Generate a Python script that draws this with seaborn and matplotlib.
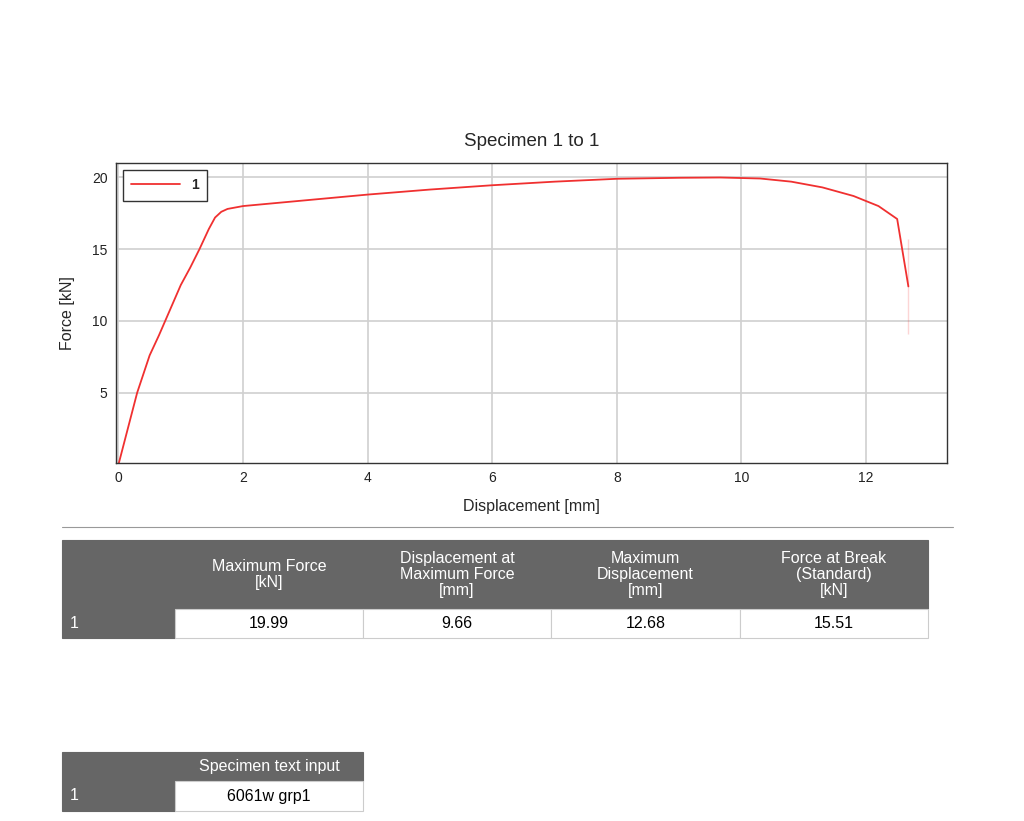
import matplotlib
matplotlib.use("Agg")
import matplotlib.pyplot as plt
import seaborn as sns
import pandas as pd

# curve
displacement = [0, 0.15, 0.3, 0.5, 0.65, 0.85, 1.0, 1.15, 1.3, 1.45, 1.55, 1.65, 1.75, 2.0, 3.0, 4.0, 5.0,
                6.0, 7.0, 8.0, 9.0, 9.66, 10.3, 10.8, 11.3, 11.8, 12.2, 12.5, 12.68, 12.68]
force = [0, 2.5, 5.0, 7.6, 9.0, 11.0, 12.5, 13.7, 15.0, 16.4, 17.2, 17.6, 17.8, 18.0, 18.4, 18.8, 19.15,
         19.45, 19.7, 19.9, 19.97, 19.99, 19.92, 19.7, 19.3, 18.7, 18.0, 17.1, 15.7, 9.1]

headers = ["Maximum Force\n[kN]", "Displacement at\nMaximum Force\n[mm]",
           "Maximum\nDisplacement\n[mm]", "Force at Break\n(Standard)\n[kN]"]
results = ["19.99", "9.66", "12.68", "15.51"]
specimen_ids = ["1"]
text_input = ["6061w grp1"]

sns.set_style("whitegrid")
plt.rcParams["font.family"] = ["Liberation Sans", "DejaVu Sans"]

fig = plt.figure(figsize=(10.24, 8.21), dpi=100)
ax = fig.add_axes([116 / 1024, 1 - 463 / 821, 831 / 1024, 300 / 821])
df = pd.DataFrame({"Displacement": displacement, "Force": force, "id": "1"})
sns.lineplot(data=df, x="Displacement", y="Force", hue="id", palette=["#f03030"],
             sort=False, lw=1.3, ax=ax)
ax.set_xlim(-0.04, 13.3)
ax.set_ylim(0.1, 21)
ax.set_xticks([0, 2, 4, 6, 8, 10, 12])
ax.set_yticks([5, 10, 15, 20])
ax.tick_params(labelsize=10, colors="#222222", length=0, pad=6)
ax.grid(color="#d0d0d0", lw=1.2)
for s in ax.spines.values():
    s.set_color("#333333")
    s.set_linewidth(1)
ax.set_xlabel("Displacement [mm]", fontsize=11.5, labelpad=10)
ax.set_ylabel("Force [kN]", fontsize=11.5, labelpad=12)
ax.set_title("Specimen 1 to 1", fontsize=13.5, pad=12)
leg = ax.legend(loc="upper left", fontsize=10, fancybox=False, handlelength=3.5,
                borderpad=0.6, framealpha=1, edgecolor="#333333")
for t in leg.get_texts():
    t.set_fontweight("bold")

# overlay in pixel coords for the tables
ov = fig.add_axes([0, 0, 1, 1])
ov.set_xlim(0, 1024)
ov.set_ylim(821, 0)
ov.axis("off")
ov.plot([62, 953], [527, 527], color="#999999", lw=0.8)

def cell(x0, x1, y0, y1, text, dark, ha="center"):
    ov.add_patch(plt.Rectangle((x0, y0), x1 - x0, y1 - y0,
                               facecolor="#666666" if dark else "white",
                               edgecolor="#cccccc" if not dark else "#666666", lw=0.8))
    tx = (x0 + x1) / 2 if ha == "center" else x0 + 8
    ov.text(tx, (y0 + y1) / 2, text, ha=ha, va="center", fontsize=11.5,
            color="white" if dark else "black", linespacing=1.1)

cols = [62, 175, 363, 551, 740, 928]
cell(cols[0], cols[1], 540, 609, "", True)
for i, h in enumerate(headers):
    cell(cols[i + 1], cols[i + 2], 540, 609, h, True)
cell(cols[0], cols[1], 609, 638, specimen_ids[0], True, ha="left")
for i, v in enumerate(results):
    cell(cols[i + 1], cols[i + 2], 609, 638, v, False)

cell(62, 175, 752, 781, "", True)
cell(175, 363, 752, 781, "Specimen text input", True)
cell(62, 175, 781, 811, specimen_ids[0], True, ha="left")
cell(175, 363, 781, 811, text_input[0], False)

fig.savefig("out.png", dpi=100)
